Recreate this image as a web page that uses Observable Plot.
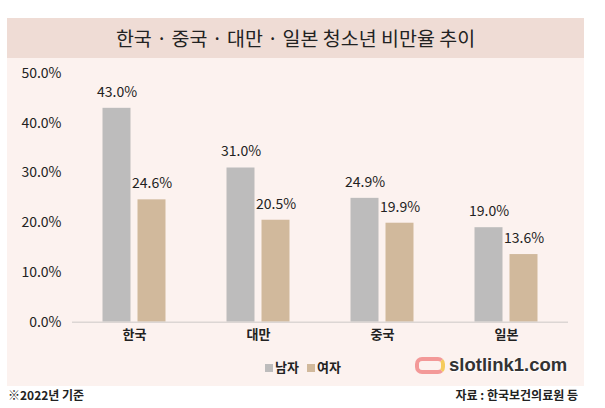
<!DOCTYPE html>
<html>
<head>
<meta charset="utf-8">
<script src="https://cdn.jsdelivr.net/npm/d3@7"></script>
<script src="https://cdn.jsdelivr.net/npm/@observablehq/plot@0.6"></script>
<style>
  body { margin: 0; background: #ffffff; font-family: "Noto Sans CJK KR", "Noto Sans", sans-serif; }
  #wrap { position: absolute; left: 7px; top: 18px; width: 577px; }
  #title { height: 40px; line-height: 40px; background: #efdcd5; text-align: center; font-size: 19.5px; font-weight: 400; color: #222; }
  #chart { background: #fcf2ef; }
  #chart svg { display: block; }
  #legend { position: relative; height: 38px; font-size: 13px; font-weight: 700; color: #222; }
  #legend .items { position: absolute; left: 258px; top: 9px; display: flex; align-items: center; gap: 8px; }
  #legend .sw { display: inline-block; width: 8px; height: 8px; margin-right: 2px; vertical-align: middle; }
  #legend .wm { position: absolute; left: 408px; top: 6px; font-family: "Liberation Sans", sans-serif; font-size: 18.5px; font-weight: 700; color: #333; text-shadow: 0 0 2px #fff, 1px 1px 1px #fff; display: flex; align-items: center; gap: 4px; }
  #legend .logo { display: inline-block; width: 30px; height: 17px; border: 4px solid #f28a8a; border-radius: 7px; box-sizing: border-box; border-right-color: #f4c542; opacity: 0.85; }
  #foot { position: relative; height: 18px; font-size: 12px; font-weight: 700; color: #222; }
  #foot .l { position: absolute; left: 1px; top: 0; }
  #foot .r { position: absolute; right: 6px; top: 0; }
</style>
</head>
<body>
<div id="wrap">
  <div id="title">한국 · 중국 · 대만 · 일본 청소년 비만율 추이</div>
  <div id="chart"></div>
  <div id="foot"><span class="l">※2022년 기준</span><span class="r">자료 : 한국보건의료원 등</span></div>
</div>
<script>
const countries = ["한국", "대만", "중국", "일본"];
const male = [43.0, 31.0, 24.9, 19.0];
const female = [24.6, 20.5, 19.9, 13.6];
const yTicks = [0, 10, 20, 30, 40, 50];
const seriesNames = ["남자", "여자"];
const colors = ["#bdbcbc", "#d1b99c"];

const maleData = countries.map((c, i) => ({country: c, value: male[i]}));
const femaleData = countries.map((c, i) => ({country: c, value: female[i]}));
const fmt = v => v.toFixed(1) + "%";

const chart = Plot.plot({
  width: 577,
  height: 290,
  marginLeft: 65,
  marginRight: 16,
  marginTop: 15,
  marginBottom: 26.3,
  style: {background: "transparent", fontFamily: "'Noto Sans CJK KR', 'Noto Sans', sans-serif", color: "#222"},
  x: {domain: countries, padding: 0, label: null},
  y: {domain: [0, 50], label: null},
  marks: [
    Plot.barY(maleData, {x: "country", y: "value", fill: colors[0], insetLeft: 30.5, insetRight: 65.5}),
    Plot.barY(femaleData, {x: "country", y: "value", fill: colors[1], insetLeft: 65.5, insetRight: 30.5}),
    Plot.text(maleData, {x: "country", y: "value", text: d => fmt(d.value), dx: -17.5, dy: -16, fontSize: 14, fill: "#222"}),
    Plot.text(femaleData, {x: "country", y: "value", text: d => fmt(d.value), dx: 17.5, dy: -16, fontSize: 14, fill: "#222"}),
    Plot.ruleY([0], {stroke: "#dcd6d4", strokeWidth: 1.5}),
    Plot.axisY({ticks: yTicks, tickFormat: fmt, tickSize: 0, tickPadding: 11, fontSize: 14, label: null}),
    Plot.axisX({tickSize: 0, tickPadding: 8, fontSize: 13, fontWeight: 700, label: null})
  ]
});

const holder = document.getElementById("chart");
holder.appendChild(chart);

const legend = document.createElement("div");
legend.id = "legend";
const items = document.createElement("div");
items.className = "items";
seriesNames.forEach((n, i) => {
  const s = document.createElement("span");
  s.innerHTML = `<span class="sw" style="background:${colors[i]}"></span>${n}`;
  items.appendChild(s);
});
legend.appendChild(items);
const wm = document.createElement("div");
wm.className = "wm";
wm.innerHTML = '<span class="logo"></span><span>slotlink1.com</span>';
legend.appendChild(wm);
holder.appendChild(legend);
</script>
</body>
</html>
